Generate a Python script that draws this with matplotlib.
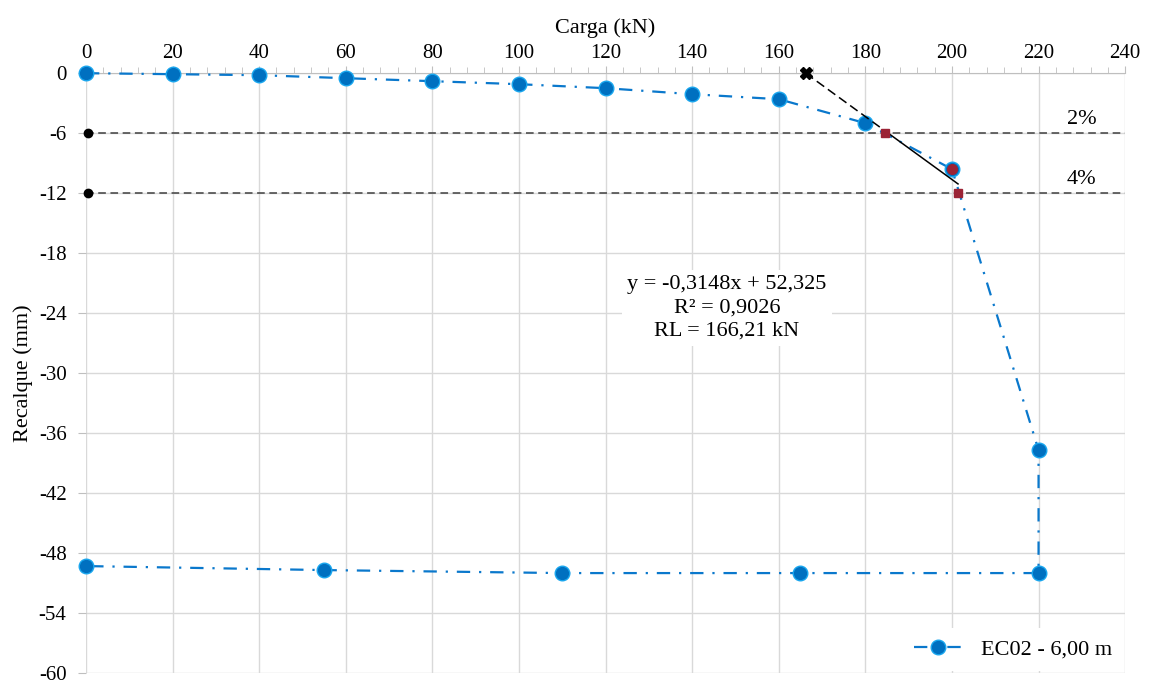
import matplotlib.pyplot as plt
from matplotlib.ticker import MultipleLocator

plt.rcParams['font.family'] = ['Liberation Serif', 'DejaVu Serif']
plt.rcParams['axes.unicode_minus'] = False

# load test data (kN, mm)
carga = [0, 20, 40, 60, 80, 100, 120, 140, 160, 180, 200, 220, 220, 165, 110, 55, 0]
recalque = [0, -0.1, -0.2, -0.5, -0.8, -1.1, -1.5, -2.1, -2.6, -5.0, -9.6, -37.7,
            -50.0, -50.0, -50.0, -49.7, -49.3]

# linear fit of the last loading stages: y = a*x + b
a, b = -0.3148, 52.325
rl = 166.21
x_2pct = 184.6
x_4pct = 201.4
limites = [-6, -12]
limites_txt = ['2%', '4%']

azul = '#0A78CC'

fig = plt.figure(figsize=(11.54, 6.84), dpi=100)
ax = fig.add_axes([0.0745, 0.016, 0.9005, 0.877])

ax.plot(carga, recalque, color=azul, linestyle=(0, (6, 4, 1, 4)), linewidth=1.6,
        marker='o', markersize=10.5, markerfacecolor='#0070C0',
        markeredgecolor='#19A6EE', markeredgewidth=1, clip_on=False,
        zorder=3, label='EC02 - 6,00 m')

# reference levels 2% and 4%
for y, txt in zip(limites, limites_txt):
    ax.axhline(y, color='#404040', linestyle=(0, (5, 3)), linewidth=1.1, zorder=2)
    ax.plot(0.5, y, 'o', color='black', markersize=6, clip_on=False, zorder=4)
    ax.text(230, y + 0.4, txt, fontsize=16, ha='center', va='bottom')

# trend line: dashed up to the 2% level, solid after
ax.plot([rl, x_2pct], [a * rl + b, a * x_2pct + b], color='black',
        linestyle=(0, (6, 3)), linewidth=1.1, zorder=4)
ax.plot([x_2pct, x_4pct], [a * x_2pct + b, a * x_4pct + b], color='black',
        linewidth=1.1, zorder=4)
ax.plot(rl, 0, 'X', color='black', markersize=8, clip_on=False, zorder=5)
ax.plot([x_2pct, x_4pct], limites, 's', color='#9B2335', markersize=6, zorder=5)
ax.plot(200, -9.6, 'o', color='#9B2335', markersize=7, zorder=5)

ax.text(148, -23.5, 'y = -0,3148x + 52,325\nR² = 0,9026\nRL = 166,21 kN',
        fontsize=16, ha='center', va='center', linespacing=1.3,
        bbox=dict(facecolor='white', edgecolor='none', pad=4), zorder=6)

ax.set_xlim(0, 240)
ax.set_ylim(-60, 0)
ax.xaxis.set_major_locator(MultipleLocator(20))
ax.xaxis.set_minor_locator(MultipleLocator(4))
ax.yaxis.set_major_locator(MultipleLocator(6))
ax.xaxis.tick_top()
ax.xaxis.set_label_position('top')
ax.set_xlabel('Carga (kN)', fontsize=16, labelpad=8)
ax.set_ylabel('Recalque (mm)', fontsize=16, labelpad=4)
ax.tick_params(axis='both', labelsize=15, color='#bfbfbf')
ax.tick_params(axis='x', which='major', length=5, pad=2)
ax.tick_params(axis='x', which='minor', length=4, color='#bfbfbf')
ax.tick_params(axis='y', length=6, pad=8)
ax.grid(True, color='#d9d9d9', linewidth=1)
for s in ['left', 'right', 'bottom']:
    ax.spines[s].set_visible(False)
ax.spines['top'].set_color('#bfbfbf')

leg = ax.legend(loc='lower right', fontsize=16, frameon=True, framealpha=1,
                edgecolor='none', borderaxespad=0.2, handlelength=2.2)
leg.get_frame().set_boxstyle('square', pad=0.1)

fig.savefig('out.png', dpi=100)
